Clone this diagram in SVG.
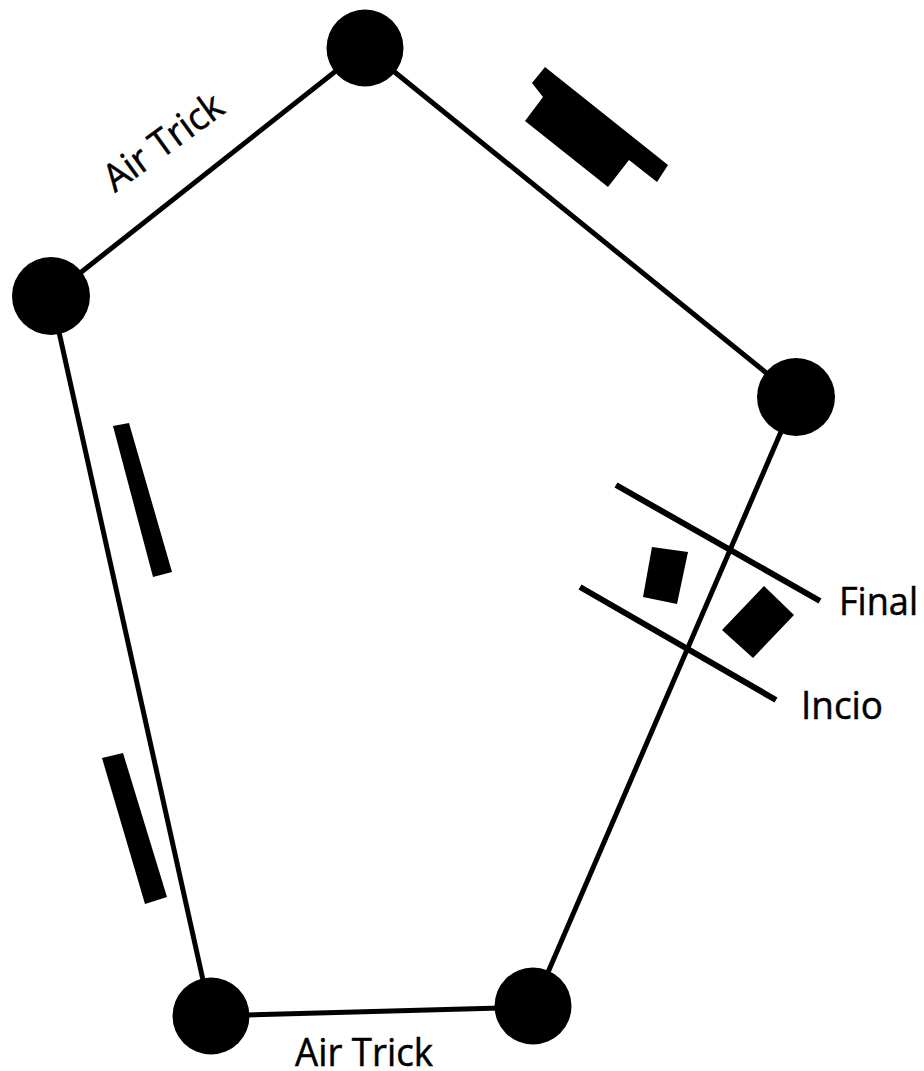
<svg xmlns="http://www.w3.org/2000/svg" width="924" height="1071" viewBox="0 0 924 1071">
<style>
.edge{stroke:#000;stroke-width:5;fill:none;stroke-linecap:butt}
.gate{stroke:#000;stroke-width:6;fill:none}
.node{fill:#000}
.obs{fill:#000}
.lbl{font-family:"Open Sans","Liberation Sans",sans-serif;font-size:38px;fill:#000;stroke:#000;stroke-width:0.5}
</style>
<rect width="924" height="1071" fill="#fff"/>
<g id="connectors">
<line class="edge" x1="365" y1="48" x2="51" y2="296"/>
<line class="edge" x1="365" y1="48" x2="796" y2="397"/>
<line class="edge" x1="51" y1="296" x2="211" y2="1016"/>
<line class="edge" x1="211" y1="1016" x2="533" y2="1007"/>
<line class="edge" x1="533" y1="1007" x2="796" y2="397"/>
</g>
<g id="node-top"><circle class="node" cx="365" cy="48" r="38.5"/></g>
<g id="node-left"><circle class="node" cx="51" cy="296" r="39"/></g>
<g id="node-right"><circle class="node" cx="796" cy="397" r="39"/></g>
<g id="node-bottom-left"><circle class="node" cx="211" cy="1016" r="38.5"/></g>
<g id="node-bottom-right"><circle class="node" cx="533" cy="1006" r="38.5"/></g>
<g id="obstacles">
<polygon class="obs" points="545,67 668,165 657,182 629,160 608,187 525,121 543,97 532,83"/>
<polygon class="obs" points="113,426 129,423 172,572 153,577"/>
<polygon class="obs" points="102,758 123,753 167,897 145,904"/>
<polygon class="obs" points="652,547 688,552 677,604 643,597"/>
<polygon class="obs" points="764,586 794,615 753,658 722,630"/>
</g>
<g id="gate-final">
<line class="gate" x1="616" y1="485" x2="820" y2="601"/>
<text class="lbl" x="839" y="615" textLength="79" lengthAdjust="spacingAndGlyphs">Final</text>
</g>
<g id="gate-incio">
<line class="gate" x1="580" y1="587" x2="776" y2="700"/>
<text class="lbl" x="801" y="719" textLength="82" lengthAdjust="spacingAndGlyphs">Incio</text>
</g>
<g id="labels">
<text class="lbl" x="115" y="193" transform="rotate(-36 115 193)" textLength="138" lengthAdjust="spacingAndGlyphs">Air Trick</text>
<text class="lbl" x="295" y="1066" textLength="138" lengthAdjust="spacingAndGlyphs">Air Trick</text>
</g>
</svg>
